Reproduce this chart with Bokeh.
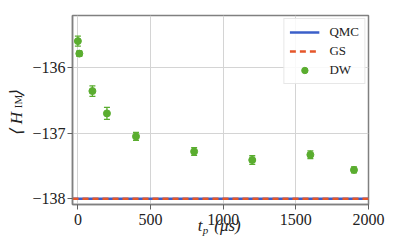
import math
from bokeh.plotting import figure
from bokeh.models import (ColumnDataSource, Range1d, FixedTicker, Whisker, TeeHead,
                          Legend, LegendItem, LinearAxis, CustomJSTickFormatter)
from bokeh.embed import file_html
from bokeh.resources import INLINE

# ---- data ----
t_p = [0, 10, 100, 200, 400, 800, 1200, 1600, 1900]
dw_mean = [-135.60, -135.79, -136.36, -136.70, -137.05, -137.28, -137.41, -137.33, -137.56]
dw_err = [0.075, 0.04, 0.08, 0.09, 0.06, 0.06, 0.065, 0.06, 0.045]
qmc_value = -138.0
gs_value = -138.0
x_ticks = [0, 500, 1000, 1500, 2000]
y_ticks = [-138, -137, -136]
y_tick_labels = ["\u2212138", "\u2212137", "\u2212136"]
series_names = ["QMC", "GS", "DW"]
# axis-label pieces: t_p (μs)  and  ⟨H_IM⟩
xlabel_main = ["t", "(\u03bcs)"]
xlabel_sub = ["p"]
ylabel_main = ["\u27e8", "H", "\u27e9"]
ylabel_sub = ["IM"]

BLUE = "#3b5fc9"
ORANGE = "#e5562a"
GREEN = "#5aad2f"
SERIF = "Liberation Serif"
TXT = "#222222"

W, H = 387, 242
XMIN, XMAX = -37, 2000
YMIN, YMAX = -138.087, -135.21
BL, BR, BT, BB = 72, 19, 15, 38
FW, FH = W - BL - BR, H - BT - BB


def dx(px):  # page pixel -> data x (layout helper for label pieces)
    return XMIN + (px - BL) * (XMAX - XMIN) / FW


def dy(py):  # page pixel -> data y
    return YMAX - (py - BT) * (YMAX - YMIN) / FH


p = figure(width=W, height=H, output_backend="svg", toolbar_location=None,
           x_range=Range1d(XMIN, XMAX), y_range=Range1d(YMIN, YMAX),
           min_border_left=BL, min_border_right=BR, min_border_top=BT, min_border_bottom=BB)
p.background_fill_color = "white"
p.border_fill_color = "white"
p.outline_line_color = "#808080"
p.outline_line_width = 1.5

for ax in (p.xaxis[0], p.yaxis[0]):
    ax.axis_line_color = "#808080"
    ax.axis_line_width = 1.5
    ax.major_tick_line_color = "#606060"
    ax.major_tick_out = 5
    ax.major_tick_in = 0
    ax.minor_tick_line_color = None
    ax.major_label_text_font = SERIF
    ax.major_label_text_font_size = "16px"
    ax.major_label_text_color = TXT
    ax.axis_label = None
p.xaxis[0].major_label_standoff = 4
p.yaxis[0].major_label_standoff = 2

p.xaxis[0].ticker = FixedTicker(ticks=x_ticks)
p.yaxis[0].ticker = FixedTicker(ticks=y_ticks)

LOOKUP = ("let b = 0; for (let i = 1; i < tvals.length; i++) "
          "{ if (Math.abs(tvals[i] - tick) < Math.abs(tvals[b] - tick)) b = i; } "
          "return tlabs[b];")
p.yaxis[0].formatter = CustomJSTickFormatter(
    args=dict(tvals=y_ticks, tlabs=y_tick_labels), code=LOOKUP)

p.xgrid.grid_line_color = "#d4d4d4"
p.ygrid.grid_line_color = "#d4d4d4"
p.xgrid.ticker = FixedTicker(ticks=x_ticks)
p.ygrid.ticker = FixedTicker(ticks=y_ticks)


# ---- axis titles built from label-only axes (so they sit outside the frame) ----
def label_axis(side, positions, texts, size, style, standoff, orientation="horizontal"):
    ax = LinearAxis(ticker=FixedTicker(ticks=positions),
                    formatter=CustomJSTickFormatter(args=dict(tvals=positions, tlabs=texts),
                                                    code=LOOKUP))
    ax.axis_line_color = None
    ax.major_tick_line_color = None
    ax.minor_tick_line_color = None
    ax.major_tick_out = 0
    ax.major_tick_in = 0
    ax.major_label_text_font = SERIF
    ax.major_label_text_font_size = f"{size}px"
    ax.major_label_text_font_style = style
    ax.major_label_text_color = TXT
    ax.major_label_standoff = standoff
    ax.major_label_orientation = orientation
    p.add_layout(ax, side)
    return ax


# y title: subscript axis next to the tick labels, main pieces further out
label_axis("left", [dy(101)], ylabel_sub, 11, "normal", 6, "vertical")
label_axis("left", [dy(132), dy(117.5), dy(92.5)], ylabel_main, 17, "italic", -17, "vertical")
# x title: main pieces under the tick labels, subscript slightly lower
label_axis("below", [dx(199.5), dx(227)], xlabel_main, 17, "italic", -12)
label_axis("below", [dx(205)], xlabel_sub, 11, "italic", -14)

# reference lines
r_qmc = p.line(x=[XMIN, XMAX], y=[qmc_value, qmc_value], line_color=BLUE, line_width=2.5)
r_gs = p.line(x=[XMIN, XMAX], y=[gs_value, gs_value], line_color=ORANGE, line_width=2.5,
              line_dash="6 4")

# DW data with error bars
src = ColumnDataSource(dict(
    x=t_p, y=dw_mean,
    upper=[m + e for m, e in zip(dw_mean, dw_err)],
    lower=[m - e for m, e in zip(dw_mean, dw_err)],
))
wh = Whisker(source=src, base="x", upper="upper", lower="lower", dimension="height",
             line_color=GREEN, line_width=1.3,
             upper_head=TeeHead(size=6, line_color=GREEN, line_width=1.3),
             lower_head=TeeHead(size=6, line_color=GREEN, line_width=1.3))
p.add_layout(wh)
r_dw = p.scatter("x", "y", source=src, marker="circle", size=7, fill_color=GREEN,
                 line_color=GREEN)

legend = Legend(items=[
    LegendItem(label=series_names[0], renderers=[r_qmc]),
    LegendItem(label=series_names[1], renderers=[r_gs]),
    LegendItem(label=series_names[2], renderers=[r_dw]),
], location="top_right")
legend.label_text_font = SERIF
legend.label_text_font_size = "13px"
legend.label_text_color = TXT
legend.glyph_width = 30
legend.glyph_height = 16
legend.label_height = 16
legend.spacing = 3
legend.padding = 5
legend.margin = 3
legend.label_standoff = 10
legend.border_line_color = "#d0d0d0"
legend.border_line_width = 1
legend.background_fill_alpha = 0.85
p.add_layout(legend)

open("out.html", "w").write(file_html(p, INLINE))
